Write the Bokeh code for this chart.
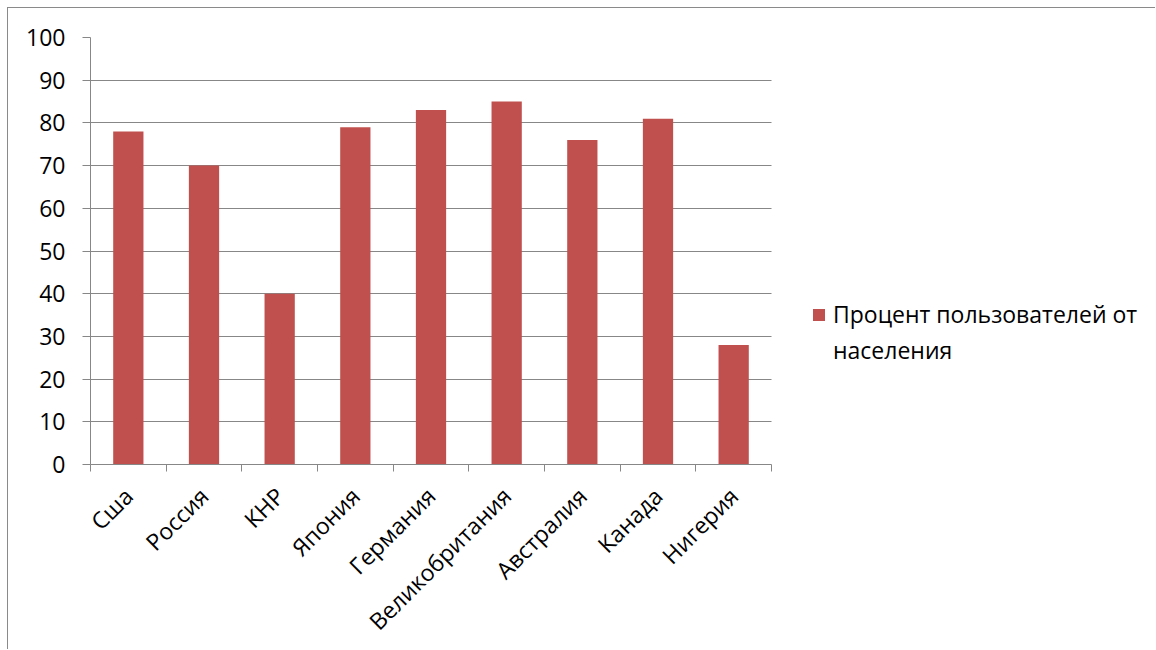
from bokeh.plotting import figure
from bokeh.models import (Range1d, FixedTicker, LinearAxis, Legend, LegendItem,
                          ColumnDataSource, Grid)
from bokeh.embed import file_html
from bokeh.resources import INLINE

countries = ["Сша", "Россия", "КНР", "Япония", "Германия", "Великобритания",
             "Австралия", "Канада", "Нигерия"]
values = [78, 70, 40, 79, 83, 85, 76, 81, 28]
y_ticks = [0, 10, 20, 30, 40, 50, 60, 70, 80, 90, 100]
series_line1 = "Процент пользователей от"
series_line2 = "населения"

FONT = "Open Sans"
FS = "23px"
GRAY = "#878787"
BAR = "#C0504D"

n = len(countries)
centers = [i + 0.5 for i in range(n)]
src = ColumnDataSource(dict(x=centers, top=values, name=countries))

# frame spans 1066 px; the 9 categories take 681 px of it, the rest holds the legend
x_end = n * 1066 / 681

p = figure(width=1148, height=642, output_backend="svg", toolbar_location=None,
           x_range=Range1d(0, x_end), y_range=Range1d(0, 100),
           x_axis_type=None, y_axis_type=None,
           min_border_left=82, min_border_top=29, min_border_right=0,
           min_border_bottom=180)
p.outline_line_color = None
p.styles = {"border-left": "1px solid #8a8a8a", "border-top": "1px solid #8a8a8a",
            "box-sizing": "border-box", "margin-left": "7px", "margin-top": "7px"}

r = p.vbar(x="x", top="top", width=0.4, bottom=0, source=src, fill_color=BAR,
           line_color=None)
# second legend line (continuation of the series name): draws no mark
r2 = p.vbar(x=[], top=[], width=0.4, fill_color=None, line_color=None)

# y axis
yax = LinearAxis(ticker=FixedTicker(ticks=y_ticks))
yax.axis_line_color = GRAY
yax.major_tick_line_color = GRAY
yax.major_tick_out = 8
yax.major_tick_in = 0
yax.minor_tick_line_color = None
yax.major_label_text_font = FONT
yax.major_label_text_font_size = FS
yax.major_label_text_color = "#000000"
yax.major_label_standoff = 17
p.add_layout(yax, "left")

# x axis: boundary ticks only
xtick = LinearAxis(ticker=FixedTicker(ticks=list(range(n + 1))), bounds=(0, n))
xtick.axis_line_color = GRAY
xtick.major_tick_line_color = GRAY
xtick.major_tick_out = 7
xtick.major_tick_in = 0
xtick.minor_tick_line_color = None
xtick.major_label_overrides = {i: "" for i in range(n + 1)}
xtick.major_label_text_font_size = "1px"
xtick.major_label_standoff = 0
p.add_layout(xtick, "below")

# x axis: category labels at centers
xlab = LinearAxis(ticker=FixedTicker(ticks=centers), bounds=(0, n))
xlab.axis_line_color = None
xlab.major_tick_line_color = None
xlab.minor_tick_line_color = None
xlab.major_label_overrides = {c: nm for c, nm in zip(centers, countries)}
xlab.major_label_orientation = 0.785398
xlab.major_label_text_font = FONT
xlab.major_label_text_font_size = FS
xlab.major_label_text_color = "#000000"
xlab.major_label_standoff = 14
p.add_layout(xlab, "below")

p.add_layout(Grid(dimension=1, ticker=yax.ticker, grid_line_color=GRAY,
                  cross_bounds=(0, n)))

legend = Legend(items=[LegendItem(label=series_line1, renderers=[r]),
                       LegendItem(label=series_line2, renderers=[r2])],
                location=(721, 98), margin=0, padding=0, border_line_color=None,
                background_fill_alpha=0, glyph_width=15, glyph_height=15,
                label_standoff=7, label_text_font=FONT, spacing=4,
                label_text_font_size=FS, label_text_color="#000000",
                label_height=20)
p.add_layout(legend, "center")

open("out.html", "w").write(file_html(p, INLINE))
